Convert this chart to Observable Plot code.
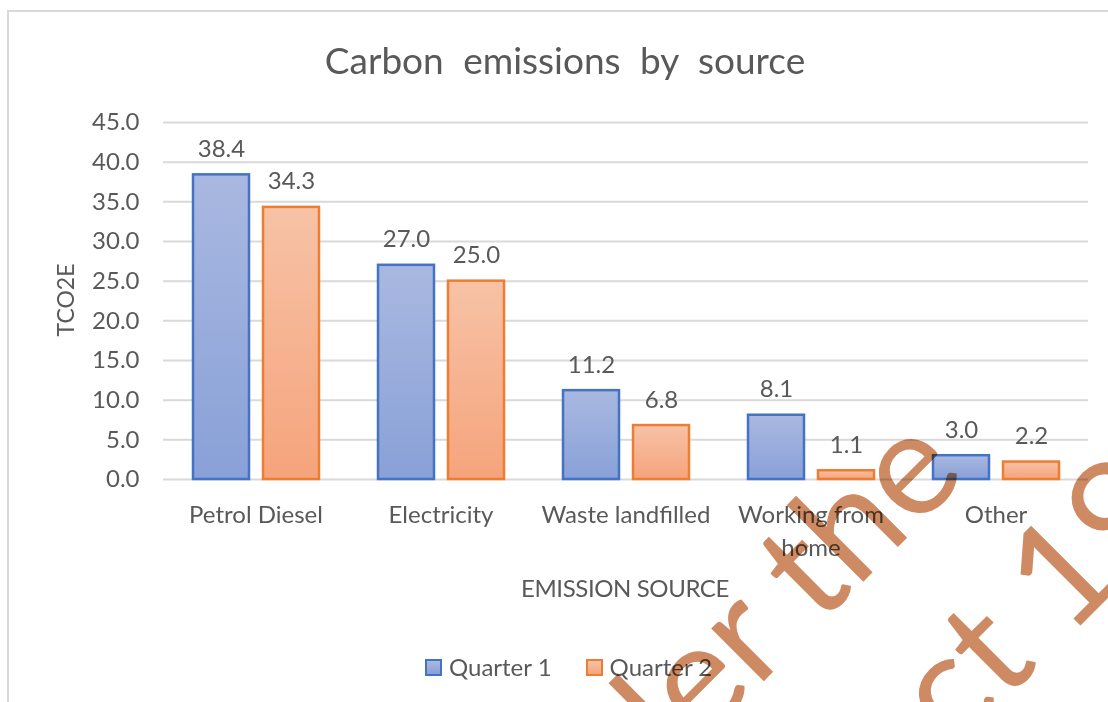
<!DOCTYPE html>
<html>
<head>
<meta charset="utf-8">
<script src="https://cdn.jsdelivr.net/npm/d3@7"></script>
<script src="https://cdn.jsdelivr.net/npm/@observablehq/plot@0.6"></script>
<style>
  html, body { margin: 0; padding: 0; background: #ffffff; }
  #wrap { position: relative; width: 1108px; height: 702px; overflow: hidden; background: #fff; font-family: Lato, "Open Sans", sans-serif; color: #595959; }
  #frame { position: absolute; left: 7px; top: 10px; width: 1200px; height: 800px; border: 2px solid #d9d9d9; box-sizing: border-box; }
  #title { position: absolute; left: 0; width: 1130px; top: 38px; text-align: center; font-size: 37px; line-height: 44px; word-spacing: 10px; color: #595959; }
  #chart { position: absolute; left: 0; top: 0; }
  #xlabel { position: absolute; left: 0; width: 1250px; top: 574px; text-align: center; font-size: 24px; line-height: 28px; letter-spacing: -0.4px; color: #595959; }
  #ylabel { position: absolute; left: 65px; top: 300px; width: 0; height: 0; }
  #ylabel span { position: absolute; left: 0; top: 0; transform: translate(-50%, -50%) rotate(-90deg); font-size: 23px; line-height: 24px; white-space: nowrap; color: #595959; }
  #legend { position: absolute; left: 425px; top: 652px; display: flex; align-items: center; font-size: 24px; line-height: 30px; color: #595959; }
  .sw { width: 17px; height: 17px; box-sizing: border-box; border: 2.5px solid; margin-right: 7px; }
  .item { display: flex; align-items: center; margin-right: 34px; }
  #wm { position: absolute; left: 0; top: 0; mix-blend-mode: multiply; pointer-events: none; }
</style>
</head>
<body>
<div id="wrap">
  <div id="frame"></div>
  <div id="chart"></div>
  <div id="title"></div>
  <div id="ylabel"><span></span></div>
  <div id="xlabel"></div>
  <div id="legend"></div>
  <svg id="wm" width="1108" height="702"></svg>
</div>
<script>
// ---- data ----
const categories = ["Petrol Diesel", "Electricity", "Waste landfilled", "Working from home", "Other"];
const seriesNames = ["Quarter 1", "Quarter 2"];
const quarter1 = [38.4, 27.0, 11.2, 8.1, 3.0];
const quarter2 = [34.3, 25.0, 6.8, 1.1, 2.2];
const yTicks = [0, 5, 10, 15, 20, 25, 30, 35, 40, 45];
const titleText = "Carbon emissions by source";
const yLabel = "TCO2E";
const xLabel = "EMISSION SOURCE";
const watermarkLines = ["Released under the", "Act 1982"];

const rows = [];
categories.forEach((c, i) => {
  rows.push({source: c, series: seriesNames[0], value: quarter1[i]});
  rows.push({source: c, series: seriesNames[1], value: quarter2[i]});
});
const q1Rows = rows.filter(d => d.series === seriesNames[0]);
const q2Rows = rows.filter(d => d.series === seriesNames[1]);

const textColor = "#595959";
const fmtTick = d => d === "Working from home" ? "Working from\nhome" : d;

const chart = Plot.plot({
  width: 1108,
  height: 702,
  marginLeft: 162,
  marginRight: 20,
  marginTop: 122,
  marginBottom: 223,
  style: {fontFamily: "Lato, 'Open Sans', sans-serif", background: "transparent", color: textColor},
  fx: {domain: categories, padding: 0},
  x: {domain: seriesNames, paddingInner: 0.2, paddingOuter: 0.4214, axis: null},
  y: {domain: [0, 45]},
  marks: [
    Plot.ruleY(yTicks, {stroke: "#d9d9d9", strokeWidth: 2}),
    Plot.barY(q1Rows, {fx: "source", x: "series", y: "value", fill: "url(#gradQ1)", stroke: "#4472C4", strokeWidth: 2.5}),
    Plot.barY(q2Rows, {fx: "source", x: "series", y: "value", fill: "url(#gradQ2)", stroke: "#ED7D31", strokeWidth: 2.5}),
    Plot.text(rows, {fx: "source", x: "series", y: "value", text: d => d.value.toFixed(1), dy: -18, lineAnchor: "bottom", fontSize: 24, fill: textColor}),
    Plot.axisY({ticks: yTicks, tickFormat: d => d.toFixed(1), tickSize: 0, tickPadding: 24, fontSize: 24, fill: textColor, label: null}),
    Plot.axisFx({anchor: "bottom", tickFormat: fmtTick, tickSize: 0, tickPadding: 20, fontSize: 24, lineHeight: 1.38, fill: textColor, label: null})
  ]
});

chart.insertAdjacentHTML("afterbegin", `
<defs>
  <linearGradient id="gradQ1" x1="0" y1="0" x2="0" y2="1">
    <stop offset="0" stop-color="#A9B8E0"/>
    <stop offset="1" stop-color="#89A1D8"/>
  </linearGradient>
  <linearGradient id="gradQ2" x1="0" y1="0" x2="0" y2="1">
    <stop offset="0" stop-color="#F7C2A6"/>
    <stop offset="1" stop-color="#F5A47C"/>
  </linearGradient>
</defs>`);
document.getElementById("chart").appendChild(chart);

document.getElementById("title").textContent = titleText;
document.getElementById("xlabel").textContent = xLabel;
document.querySelector("#ylabel span").textContent = yLabel;

// legend
const legend = document.getElementById("legend");
const swatchStyles = [
  {border: "#4472C4", bg: "linear-gradient(#A9B8E0, #89A1D8)"},
  {border: "#ED7D31", bg: "linear-gradient(#F7C2A6, #F5A47C)"}
];
seriesNames.forEach((s, i) => {
  const item = document.createElement("div");
  item.className = "item";
  const sw = document.createElement("div");
  sw.className = "sw";
  sw.style.borderColor = swatchStyles[i].border;
  sw.style.background = swatchStyles[i].bg;
  const t = document.createElement("span");
  t.textContent = s;
  item.appendChild(sw);
  item.appendChild(t);
  legend.appendChild(item);
});

// watermark (rotated overlay text)
const wm = d3.select("#wm");
const wmSpecs = [
  {x: 969, y: 476, anchor: "end", text: watermarkLines[0]},
  {x: 885, y: 821, anchor: "start", text: watermarkLines[1]}
];
wmSpecs.forEach(s => {
  wm.append("text")
    .attr("x", s.x).attr("y", s.y)
    .attr("transform", `rotate(-45 ${s.x} ${s.y})`)
    .attr("text-anchor", s.anchor)
    .attr("font-family", "Lato, sans-serif")
    .attr("font-size", 147)
    .attr("fill", "#CD8A63")
    .text(s.text);
});
</script>
</body>
</html>
